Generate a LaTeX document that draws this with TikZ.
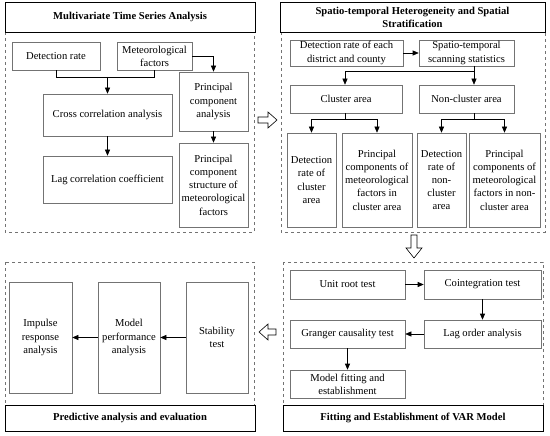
\documentclass[tikz,border=0pt]{standalone}
\usepackage{fontspec}
\setmainfont{Liberation Serif}
\usetikzlibrary{arrows.meta}
\begin{document}
\begin{tikzpicture}[x=1pt,y=-1pt,
  box/.style={draw=black!55, line width=0.6pt, align=center, inner sep=0.5pt,
    font=\fontsize{10.6}{13.2}\selectfont},
  ttl/.style={draw=black, line width=0.9pt, align=center, inner sep=1pt,
    font=\fontsize{10.6}{13}\selectfont\bfseries},
  panel/.style={draw=black!55, dashed, line width=0.6pt},
  arr/.style={-{Triangle[length=6pt,width=5pt]}, line width=0.6pt},
  lin/.style={line width=0.6pt},
  hollow/.style={draw=black, line width=0.6pt, fill=white}]
\useasboundingbox (0,0) rectangle (550,436);
% panels
\draw[panel] (5,32) rectangle (254,232);
\draw[panel] (281,32) rectangle (545,232);
\draw[panel] (5,262) rectangle (254,405);
\draw[panel] (283,262) rectangle (543,405);
% titles
\node[ttl, minimum width=250, minimum height=30] (t1) at (130,17) {Multivariate Time Series Analysis};
\node[ttl, minimum width=265, minimum height=30] (t2) at (412.5,17) {Spatio-temporal Heterogeneity and Spatial\\Stratification};
\node[ttl, minimum width=250, minimum height=26] (t3) at (130,418) {Predictive analysis and evaluation};
\node[ttl, minimum width=260, minimum height=26] (t4) at (413,418) {Fitting and Establishment of VAR Model};
% panel 1
\node[box, minimum width=88, minimum height=28] (det) at (56,56) {Detection rate};
\node[box, minimum width=75, minimum height=28] (met) at (154.5,56) {Meteorological\\factors};
\node[box, minimum width=129, minimum height=42] (cross) at (107.5,115) {Cross correlation analysis};
\node[box, minimum width=129, minimum height=47] (lag) at (107.5,179.5) {Lag correlation coefficient};
\node[box, minimum width=69, minimum height=59] (pca) at (213.5,101.5) {Principal\\component\\analysis};
\node[box, minimum width=69, minimum height=84] (pcs) at (213.5,185) {Principal\\component\\structure of\\meteorological\\factors};
\coordinate (j1) at (107.5,77);
\draw[lin] (det.south) |- (j1);
\draw[lin] (met.south) |- (j1);
\draw[arr] (j1) -- (cross.north);
\draw[arr] (cross) -- (lag);
\draw[arr] (met.east) -| (pca.north);
\draw[arr] (pca) -- (pcs);
% panel 2
\node[box, minimum width=113, minimum height=26] (dr) at (346.5,53) {Detection rate of each\\district and county};
\node[box, minimum width=95, minimum height=26] (sts) at (466.5,53) {Spatio-temporal\\scanning statistics};
\node[box, minimum width=112, minimum height=28] (ca) at (346,99) {Cluster area};
\node[box, minimum width=95, minimum height=28] (nca) at (466.5,99) {Non-cluster area};
\node[box, minimum width=49, minimum height=94] (b1) at (311.5,180) {Detection\\rate of\\cluster\\area};
\node[box, minimum width=70, minimum height=94] (b2) at (377,180) {Principal\\components of\\meteorological\\factors in\\cluster area};
\node[box, minimum width=49, minimum height=94] (b3) at (441.5,180) {Detection\\rate of\\non-\\cluster\\area};
\node[box, minimum width=71, minimum height=94] (b4) at (504.5,180) {Principal\\components of\\meteorological\\factors in non-\\cluster area};
\draw[arr] (dr) -- (sts);
\coordinate (s1) at (474,66);
\coordinate (s2) at (474,71);
\draw[lin] (s1) -- (s2);
\draw[arr] (s2) -| ([xshift=-1pt]ca.north);
\draw[arr] (s2) -- ([xshift=7.5pt]nca.north);
\coordinate (c1) at (345,119);
\draw[lin] ([xshift=-1pt]ca.south) -- (c1);
\draw[arr] (c1) -| (b1.north);
\draw[arr] (c1) -| (b2.north);
\coordinate (c2) at (474,119);
\draw[lin] ([xshift=7.5pt]nca.south) -- (c2);
\draw[arr] (c2) -| (b3.north);
\draw[arr] (c2) -| (b4.north);
% panel 4
\node[box, minimum width=115, minimum height=29] (urt) at (347.5,284.5) {Unit root test};
\node[box, minimum width=117, minimum height=29] (coi) at (482.5,284.5) {Cointegration test};
\node[box, minimum width=117, minimum height=28] (loa) at (482.5,334) {Lag order analysis};
\node[box, minimum width=115, minimum height=28] (gct) at (347.5,334) {Granger causality test};
\node[box, minimum width=115, minimum height=28] (mfe) at (347.5,384) {Model fitting and\\establishment};
\draw[arr] (urt) -- (coi);
\draw[arr] (coi) -- (loa);
\draw[arr] (loa) -- (gct);
\draw[arr] (gct) -- (mfe);
% panel 3
\node[box, minimum width=63, minimum height=111] (ira) at (40.5,337.5) {Impulse\\response\\analysis};
\node[box, minimum width=62, minimum height=111] (mpa) at (129,337.5) {Model\\performance\\analysis};
\node[box, minimum width=62, minimum height=111] (st) at (217,337.5) {Stability\\test};
\draw[arr] (st) -- (mpa);
\draw[arr] (mpa) -- (ira);
% hollow arrows between panels
\draw[hollow] (258,117) -- (268,117) -- (268,112) -- (277,120) -- (268,128) -- (268,123) -- (258,123) -- cycle;
\draw[hollow] (411,235) -- (417,235) -- (417,248) -- (422,248) -- (414,258) -- (406,248) -- (411,248) -- cycle;
\draw[hollow] (276,329) -- (268,329) -- (268,324) -- (259,332) -- (268,340) -- (268,335) -- (276,335) -- cycle;
\end{tikzpicture}
\end{document}
